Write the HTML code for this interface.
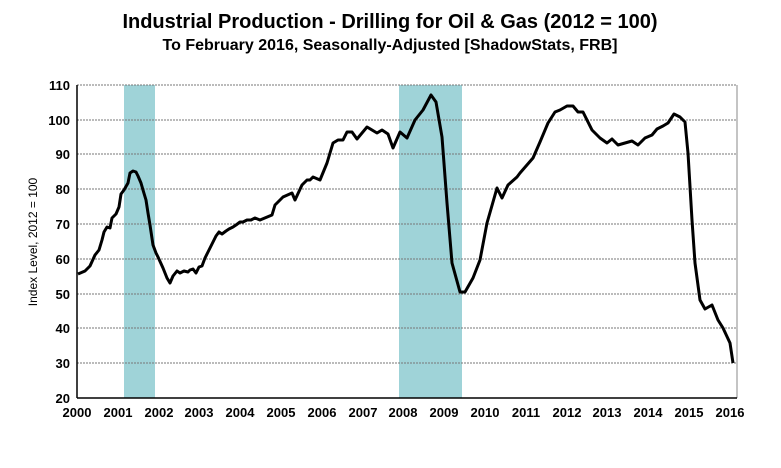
<!DOCTYPE html><html><head><style>body{margin:0;background:#fff}</style></head><body>
<svg width="781" height="463" xmlns="http://www.w3.org/2000/svg" font-family="Liberation Sans, Arial, sans-serif">
<text x="390" y="28" text-anchor="middle" font-size="20" font-weight="bold">Industrial Production - Drilling for Oil &amp; Gas (2012 = 100)</text>
<text x="390" y="50" text-anchor="middle" font-size="16" font-weight="bold">To February 2016, Seasonally-Adjusted [ShadowStats, FRB]</text>
<rect x="124" y="85" width="31" height="313" fill="#9fd3d8"/>
<rect x="399" y="85" width="63" height="313" fill="#9fd3d8"/>
<g stroke="#777" stroke-width="1" stroke-dasharray="2,1">
<line x1="77" x2="737" y1="85" y2="85"/><line x1="77" x2="737" y1="120" y2="120"/><line x1="77" x2="737" y1="154" y2="154"/><line x1="77" x2="737" y1="189" y2="189"/><line x1="77" x2="737" y1="224" y2="224"/><line x1="77" x2="737" y1="259" y2="259"/><line x1="77" x2="737" y1="294" y2="294"/><line x1="77" x2="737" y1="328" y2="328"/><line x1="77" x2="737" y1="363" y2="363"/>
</g>
<line x1="737" x2="737" y1="85" y2="398" stroke="#888"/>
<g stroke="#000" stroke-width="1.5"><line x1="77" x2="77" y1="85" y2="398"/><line x1="77" x2="737" y1="398" y2="398"/></g>
<g font-size="13" font-weight="bold" text-anchor="end">
<text x="70" y="90">110</text><text x="70" y="125">100</text><text x="70" y="159">90</text><text x="70" y="194">80</text><text x="70" y="229">70</text><text x="70" y="264">60</text><text x="70" y="299">50</text><text x="70" y="333">40</text><text x="70" y="368">30</text><text x="70" y="403">20</text>
</g>
<g font-size="13" font-weight="bold" text-anchor="middle">
<text x="77" y="417">2000</text><text x="118" y="417">2001</text><text x="159" y="417">2002</text><text x="199" y="417">2003</text><text x="240" y="417">2004</text><text x="281" y="417">2005</text><text x="322" y="417">2006</text><text x="363" y="417">2007</text><text x="403" y="417">2008</text><text x="444" y="417">2009</text><text x="485" y="417">2010</text><text x="526" y="417">2011</text><text x="567" y="417">2012</text><text x="607" y="417">2013</text><text x="648" y="417">2014</text><text x="689" y="417">2015</text><text x="730" y="417">2016</text>
</g>
<text transform="translate(37,242) rotate(-90)" text-anchor="middle" font-size="12">Index Level, 2012 = 100</text>
<polyline fill="none" stroke="#000" stroke-width="3" stroke-linejoin="round" points="78,274 85,271 90,266 95,255 99,250 102,240 104,232 107,227 110,228 112,218 116,214 119,207 121,194 124,190 128,183 130,173 133,171 136,172 138,176 141,183 143,190 146,200 148,213 150,225 153,245 156,253 158,257 163,268 167,278 170,283 173,276 177,271 180,273 184,271 188,272 190,270 193,269 196,273 199,267 202,266 205,258 208,252 212,244 216,236 219,232 222,234 226,231 229,229 233,227 236,225 240,222 243,222 247,220 251,220 255,218 260,220 272,215 275,205 283,197 292,193 295,200 302,185 307,180 310,180 313,177 320,180 327,163 333,143 338,140 343,140 347,132 352,132 357,139 367,127 377,133 382,130 388,134 393,148 400,132 407,138 415,120 423,110 431,95 436,102 442,137 447,203 452,263 460,292 465,292 473,278 480,260 487,223 497,188 502,198 508,185 517,177 520,173 533,158 540,142 548,123 555,112 560,110 567,106 573,106 578,112 583,112 592,130 600,138 607,143 612,139 618,145 625,143 632,141 638,145 645,138 652,135 657,129 663,126 668,123 674,114 680,117 685,122 688,153 692,220 695,263 700,300 705,309 712,305 718,320 723,328 730,343 733,363"/>
</svg></body></html>
